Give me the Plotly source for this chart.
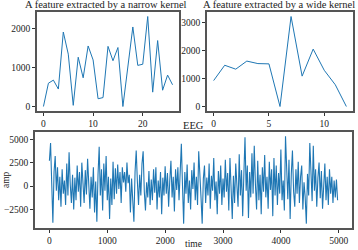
import numpy as np
import plotly.graph_objects as go

narrow = [0, 600, 680, 450, 1920, 1350, 30, 1270, 740, 1560, 1200, 200, 230, 1550,
          1180, 1520, 0, 1100, 2050, 1060, 1090, 2320, 370, 1700, 420, 810, 560]
wide = [930, 1480, 1340, 1630, 1540, 1530, 0, 3230, 1090, 2060, 1300, 780, 0]
eeg = [
    2700, 4600, 300, -3900, 1500, 3200, -500, 2000, -1500, 1000, -2200, 1800, -800,
    600, -2000, 2400, -1000, 3600, 200, -1800, 1200, -2500, 900, -1500, 2200,
    -600, 1500, -2200, 2500, 0, -1800, 1700, -900, 2900, -400, -2400, 1000, -1200,
    2000, -2800, 500, -3800, 1200, 4200, -1000, 1800, -2600, 2400, -500, 3200,
    -1500, 1000, -3500, 800, -2000, 2600, -1400, 1900, -800, 2300, -300, 1500, -1800,
    2000, 400, 1500, -600, 2500, 300, 1200, -2800, 800, -1500, -3800, 1500,
    3800, 500, -2000, 1200, -1000, 2400, 3700, -600, -2600, 400, -1200, 1600, -2000,
    700, -1500, 1800, -700, 2000, -2500, 600, -1200, 1500, -3000, 900, -1000,
    2100, -800, 1400, -2200, 600, 2700, -1200, 1000, -2700, 1800, -400, 2000, -1500,
    1200, 4500, 0, -4000, 1500, -800, 2300, -1800, 600, -2500, 1700, -300,
    2500, -1500, 1000, -2000, 3700, 300, -1200, -4000, 800, 2200, -1800, 900, -1000,
    2400, -2400, 1100, -500, 3000, -1500, 500, -3000, 1600, -800, 2200, -2000,
    800, -1200, 2800, -600, 1400, -2600, 3000, -300, -3500, 1100, -1800, 2400, 300,
    -2200, 3400, -1000, 1700, -3200, 1200, 5200, -500, 2200, -3400, 1500, -1200,
    3500, -800, 4300, 200, -2500, 2700, -1500, 1200, -3000, 2000, -600, 3300, -1200,
    1000, -2400, 2600, -400, 1800, -3200, 3000, -1000, 2200, -2000, 1400, -800,
    3900, -1500, 600, -2600, 5300, 800, -1400, 2800, -3500, 1300, 3800, -600, -2200,
    1800, -800, 2600, -1800, 1000, 2200, -2500, 400, -1200, -4000, 1300, -1000,
    4600, 200, -1600, 4300, -500, 1800, -2200, 900, 2500, -1300, 1600, -2400, 700,
    2400, -1500, 1000, -2000, 1800, -800, 1000, -1800, 600, -1200, 700, -1500,
]
eeg_step = 20

titles = ["A feature extracted by a narrow kernel", "A feature extracted by a wide kernel", "EEG"]
xlabel = "time"
ylabel = "amp"

FONT = "Liberation Serif"
LINE = "#1f77b4"
FRAME = "#555555"

def pad(lo, hi, f=0.05):
    d = (hi - lo) * f
    return [lo - d, hi + d]

x1 = np.arange(len(narrow))
x2 = np.arange(len(wide))
x3 = np.arange(len(eeg)) * eeg_step

fig = go.Figure()
fig.add_trace(go.Scatter(x=x1, y=narrow, mode="lines", line=dict(color=LINE, width=1), xaxis="x", yaxis="y"))
fig.add_trace(go.Scatter(x=x2, y=wide, mode="lines", line=dict(color=LINE, width=1), xaxis="x2", yaxis="y2"))
fig.add_trace(go.Scatter(x=x3, y=eeg, mode="lines", line=dict(color=LINE, width=1.1), xaxis="x3", yaxis="y3"))

axcommon = dict(showline=True, mirror=True, linecolor=FRAME, linewidth=1.6, showgrid=False,
                zeroline=False, ticks="outside", ticklen=3, tickwidth=1, tickcolor="#333",
                automargin=False,
                tickfont=dict(family=FONT, size=9.5, color="#222"))

TOP = 1 - 12/250
MID = 1 - 111/250

fig.update_layout(
    width=358, height=250, margin=dict(l=0, r=0, t=0, b=0),
    paper_bgcolor="white", plot_bgcolor="white", showlegend=False,
    font=dict(family=FONT, color="#222"),
    xaxis=dict(domain=[37/358, 179/358], anchor="y", range=pad(0, len(narrow)-1),
               tickvals=[0, 10, 20], **axcommon),
    yaxis=dict(domain=[MID, TOP], anchor="x", range=pad(min(narrow), max(narrow)),
               tickvals=[0, 1000, 2000], **axcommon),
    xaxis2=dict(domain=[207/358, 353/358], anchor="y2", range=pad(0, len(wide)-1),
                tickvals=[0, 5, 10], **axcommon),
    yaxis2=dict(domain=[MID, TOP], anchor="x2", range=pad(min(wide), max(wide)),
                tickvals=[0, 1000, 2000, 3000], **axcommon),
    xaxis3=dict(domain=[35/358, 352/358], anchor="y3", range=pad(0, x3[-1]),
                tickvals=[0, 1000, 2000, 3000, 4000, 5000], **axcommon),
    yaxis3=dict(domain=[1-228/250, 1-132/250], anchor="x3", range=pad(min(eeg), max(eeg)),
                tickvals=[-2500, 0, 2500, 5000], **axcommon),
)

ann = [
    dict(text=titles[0], x=106/358, y=1.0, anchor="top", size=10.5, angle=0, shift=2),
    dict(text=titles[1], x=279/358, y=1.0, anchor="top", size=10.5, angle=0, shift=2),
    dict(text=titles[2], x=193/358, y=1-125/250, anchor="middle", size=10.5, angle=0, shift=0),
    dict(text=xlabel, x=193/358, y=0.0, anchor="bottom", size=9.5, angle=0, shift=0),
    dict(text=ylabel, x=6/358, y=1-180/250, anchor="middle", size=9.5, angle=-90, shift=0),
]
for a in ann:
    fig.add_annotation(text=a["text"], x=a["x"], y=a["y"], xref="paper", yref="paper",
                       showarrow=False, xanchor="center", yanchor=a["anchor"],
                       textangle=a["angle"],
                       font=dict(family=FONT, size=a["size"], color="#222"), borderpad=0,
                       yshift=a["shift"])

fig.write_html("out.html")
